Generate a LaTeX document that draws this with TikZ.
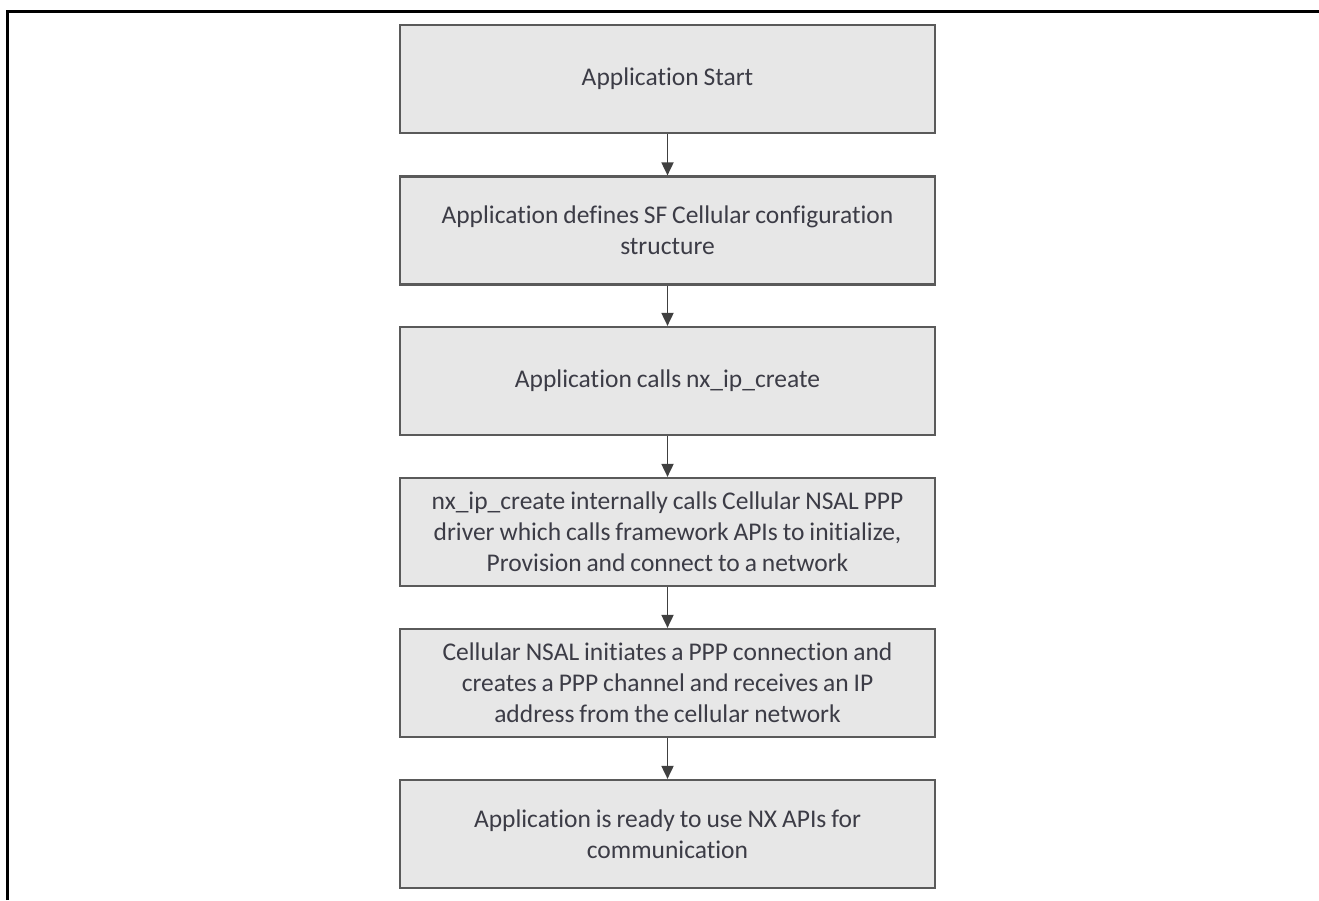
\documentclass[tikz,border=0pt]{standalone}
\usepackage{fontspec}
\setmainfont{Carlito}[Ligatures=NoCommon, WordSpace=0.85]
\usetikzlibrary{arrows.meta}
\definecolor{boxfill}{HTML}{E7E7E7}
\definecolor{boxline}{HTML}{5A5A5A}
\definecolor{textcol}{HTML}{3C3C46}
\definecolor{arrowcol}{HTML}{404040}
\tikzset{
  flowbox/.style={draw=boxline, line width=2.2pt, fill=boxfill, rectangle,
    minimum width=535pt, minimum height=108pt, inner sep=0pt,
    align=center, text=textcol,
    font=\fontsize{25.5pt}{31pt}\selectfont},
  flowarrow/.style={draw=arrowcol, line width=1.8pt,
    -{Triangle[width=12pt,length=13pt]}},
  frameline/.style={draw=black, line width=3pt}
}
\begin{document}
\begin{tikzpicture}[x=1pt, y=-1pt]
  \useasboundingbox (0,0) rectangle (1319,900);
  % outer frame: top and left edges only
  \draw[frameline] (7,900) -- (7,11) -- (1319,11);

  \node[flowbox] (start) at (667.5,79) {Application Start};
  \node[flowbox] (config) at (667.5,230.5) {Application defines SF Cellular configuration\\structure};
  \node[flowbox] (create) at (667.5,381) {Application calls nx\_ip\_create};
  \node[flowbox] (driver) at (667.5,532) {nx\_ip\_create internally calls Cellular NSAL PPP\\driver which calls framework APIs to initialize,\\Provision and connect to a network};
  \node[flowbox] (ppp) at (667.5,683) {Cellular NSAL initiates a PPP connection and\\creates a PPP channel and receives an IP\\address from the cellular network};
  \node[flowbox] (ready) at (667.5,834) {Application is ready to use NX APIs for\\communication};

  \draw[flowarrow] (start) -- (config);
  \draw[flowarrow] (config) -- (create);
  \draw[flowarrow] (create) -- (driver);
  \draw[flowarrow] (driver) -- (ppp);
  \draw[flowarrow] (ppp) -- (ready);
\end{tikzpicture}
\end{document}
